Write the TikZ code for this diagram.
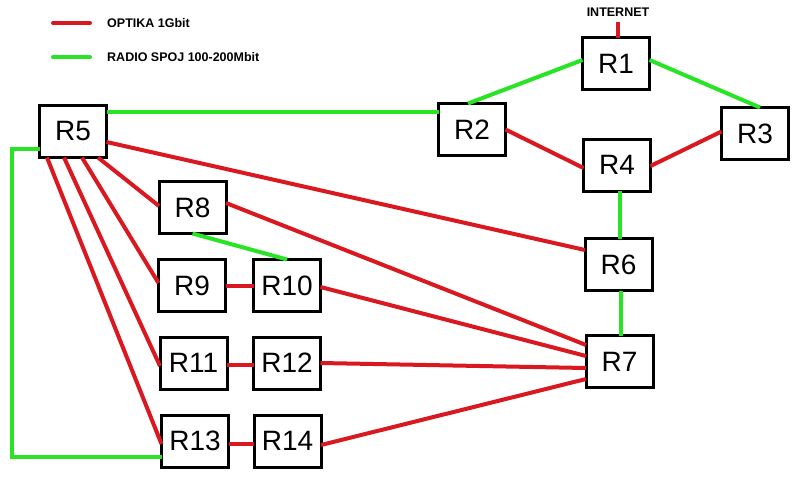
\documentclass[tikz,border=0pt]{standalone}
\usepackage{fontspec}
\setmainfont{Liberation Sans}
\usetikzlibrary{calc}
\definecolor{fibre}{RGB}{218,24,32}
\definecolor{radio}{RGB}{40,228,36}
\tikzset{
  rbox/.style={draw=black, line width=3pt, minimum width=67pt, minimum height=52pt,
    inner sep=0pt, outer sep=0pt, font=\fontsize{28}{30}\selectfont, fill=white},
  opt/.style={draw=fibre, line width=4pt},
  rad/.style={draw=radio, line width=4pt},
  legtext/.style={anchor=west, inner sep=0pt, font=\bfseries\fontsize{12.5}{14}\selectfont}
}
\begin{document}
\begin{tikzpicture}[x=1pt,y=-1pt]
\useasboundingbox[fill=white] (0,0) rectangle (803,482);
% legend
\coordinate (lr1) at (53,23); \coordinate (lr2) at (90,23);
\coordinate (lg1) at (53,57); \coordinate (lg2) at (90,57);
\draw[opt, line cap=round] (lr1) -- (lr2);
\draw[rad, line cap=round] (lg1) -- (lg2);
\node[legtext] (lt1) at (107,23) {OPTIKA 1Gbit};
\node[legtext] (lt2) at (107,57) {RADIO SPOJ 100-200Mbit};
\node[inner sep=0pt, font=\bfseries\fontsize{12.5}{14}\selectfont] (internet) at (618,12) {INTERNET};
\coordinate (inet) at (618,22);

% connectors first (boxes on top)
\path
 (616,63.5) coordinate (c1) (472,129.5) coordinate (c2) (755,133.5) coordinate (c3)
 (617,165) coordinate (c4) (73,131.5) coordinate (c5) (618.5,264.5) coordinate (c6)
 (619.5,361.5) coordinate (c7) (192.5,207.5) coordinate (c8) (192,285.5) coordinate (c9)
 (287,285.5) coordinate (c10) (193.5,363) coordinate (c11) (287,363) coordinate (c12)
 (195,441) coordinate (c13) (287.5,441) coordinate (c14);

\node[rbox] (R1) at (c1) {R1};
\node[rbox] (R2) at (c2) {R2};
\node[rbox] (R3) at (c3) {R3};
\node[rbox] (R4) at (c4) {R4};
\node[rbox] (R5) at (c5) {R5};
\node[rbox] (R6) at (c6) {R6};
\node[rbox] (R7) at (c7) {R7};
\node[rbox] (R8) at (c8) {R8};
\node[rbox] (R9) at (c9) {R9};
\node[rbox] (R10) at (c10) {R10};
\node[rbox] (R11) at (c11) {R11};
\node[rbox] (R12) at (c12) {R12};
\node[rbox] (R13) at (c13) {R13};
\node[rbox] (R14) at (c14) {R14};

\begin{scope}[on background layer/.style={}]
\draw[opt] (R1.north -| inet) -- (inet);
% radio links
\draw[rad] ([yshift=20pt]R5.east) -- ([yshift=20pt]R5.east -| R2.west);
\draw[rad] ([xshift=-4pt]R2.north) -- ([yshift=3.5pt]R1.west);
\draw[rad] ([yshift=3.5pt]R1.east) -- ([xshift=5pt]R3.north);
\draw[rad] ([xshift=3pt]R4.south) -- ([xshift=3pt]R4.south |- R6.north);
\draw[rad] ([xshift=2pt]R6.south) -- ([xshift=2pt]R6.south |- R7.north);
\draw[rad] (R8.south) -- (R10.north);
\coordinate (g1) at (12,149);
\coordinate (g2) at (12,457);
\draw[rad] ([yshift=-17.5pt]R5.west) -- (g1) -- (g2) -- (g2 -| R13.west);
% fibre links
\draw[opt] (R2.east) -- ([yshift=-3pt]R4.west);
\draw[opt] ([yshift=-1pt]R4.east) -- ([yshift=2pt]R3.west);
\draw[opt] ([yshift=-10.5pt]R5.east) -- ([yshift=14.5pt]R6.west);
\draw[opt] ([xshift=25pt]R5.south) -- ([yshift=1.5pt]R8.west);
\draw[opt] ([xshift=9pt]R5.south) -- ([yshift=2.5pt]R9.west);
\draw[opt] ([xshift=-9pt]R5.south) -- ([yshift=-3pt]R11.west);
\draw[opt] ([xshift=-26pt]R5.south) -- ([yshift=-3pt]R13.west);
\draw[opt] ([yshift=4.5pt]R8.east) -- ([yshift=16.5pt]R7.west);
\draw[opt] (R9.east) -- (R9.east -| R10.west);
\draw[opt] ([yshift=-1.5pt]R10.east) -- ([yshift=5.5pt]R7.west);
\draw[opt] ([yshift=-2pt]R11.east) -- ([yshift=-2pt]R11.east -| R12.west);
\draw[opt] (R12.east) -- ([yshift=-6.5pt]R7.west);
\draw[opt] ([yshift=-3pt]R13.east) -- ([yshift=-3pt]R13.east -| R14.west);
\draw[opt] ([yshift=-4pt]R14.east) -- ([yshift=-17.5pt]R7.west);
\end{scope}
\end{tikzpicture}
\end{document}
